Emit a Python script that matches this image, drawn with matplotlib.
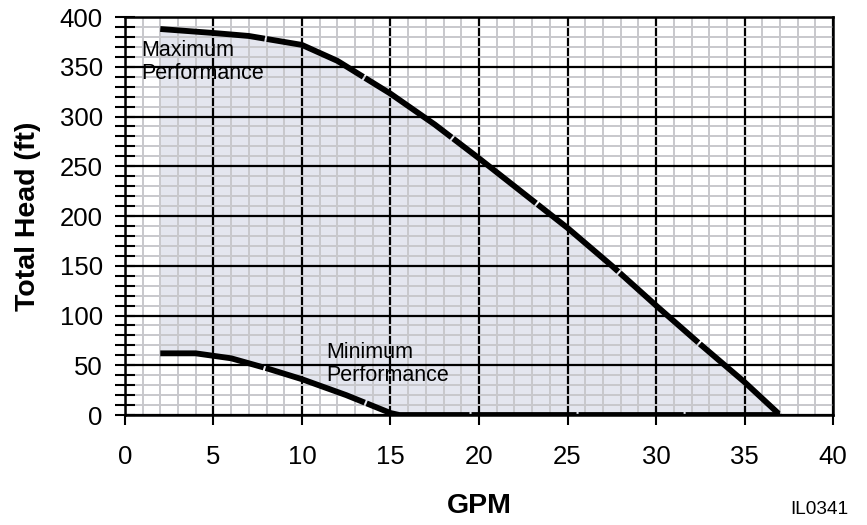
import matplotlib.pyplot as plt
import numpy as np

plt.rcParams['font.family'] = ['Liberation Sans', 'DejaVu Sans']

# pump curves
max_gpm = [2, 5, 7, 10, 12, 15, 17.5, 20, 22.5, 25, 27.5, 30, 32.5, 35, 37]
max_head = [388, 384, 381, 372, 356, 323, 292, 258, 223, 188, 150, 110, 71, 33, 0]
min_gpm = [2, 4, 6, 8, 10, 12.5, 15, 15.5, 37]
min_head = [62, 62, 57, 47, 36, 20, 2, 0, 0]

xticks = [0, 5, 10, 15, 20, 25, 30, 35, 40]
yticks = [0, 50, 100, 150, 200, 250, 300, 350, 400]

fig = plt.figure(figsize=(8.67, 5.25), dpi=100)
ax = fig.add_axes([0.144, 0.2095, 0.817, 0.758])

# shaded operating region
lo = np.interp(max_gpm, min_gpm, min_head)
ax.fill_between(max_gpm, lo, max_head, color='#e4e6ef', zorder=1, lw=0)

ax.plot(max_gpm, max_head, color='black', lw=4.2, ls=(0, (18, 0.35)),
        solid_capstyle='butt', zorder=3)
ax.plot(min_gpm, min_head, color='black', lw=4.2, ls=(0, (18, 0.35)),
        solid_capstyle='butt', zorder=3)

ax.set_xlim(0, 40)
ax.set_ylim(0, 400)
ax.set_xticks(xticks)
ax.set_yticks(yticks)
ax.set_xticks(np.arange(0, 41, 1), minor=True)
ax.set_yticks(np.arange(0, 401, 10), minor=True)

ax.grid(which='minor', color='#c8c8cc', lw=1.4)
ax.grid(which='major', color='black', lw=1.6)

ax.tick_params(axis='x', which='major', direction='out', length=7.5, width=1.5,
               labelsize=18.5, pad=14)
ax.tick_params(axis='x', which='minor', length=0)
ax.tick_params(axis='y', which='both', direction='inout', length=14, width=1.5,
               labelsize=18.5, pad=9)

for s in ax.spines.values():
    s.set_linewidth(1.8)

ax.set_ylabel('Total Head (ft)', fontsize=20.5, fontweight='bold', labelpad=13)
ax.set_xlabel('GPM', fontsize=20.5, fontweight='bold')
ax.xaxis.set_label_coords(0.5, -0.196)

ax.text(0.95, 377, 'Maximum\nPerformance', fontsize=15.5, va='top', ha='left',
        linespacing=1.12, zorder=4)
ax.text(11.4, 73, 'Minimum\nPerformance', fontsize=15.5, va='top', ha='left',
        linespacing=1.12, zorder=4)

fig.text(0.978, 1 - 509 / 525, 'IL0341', fontsize=13.7, ha='right', va='center')

plt.savefig('out.png', dpi=100)
